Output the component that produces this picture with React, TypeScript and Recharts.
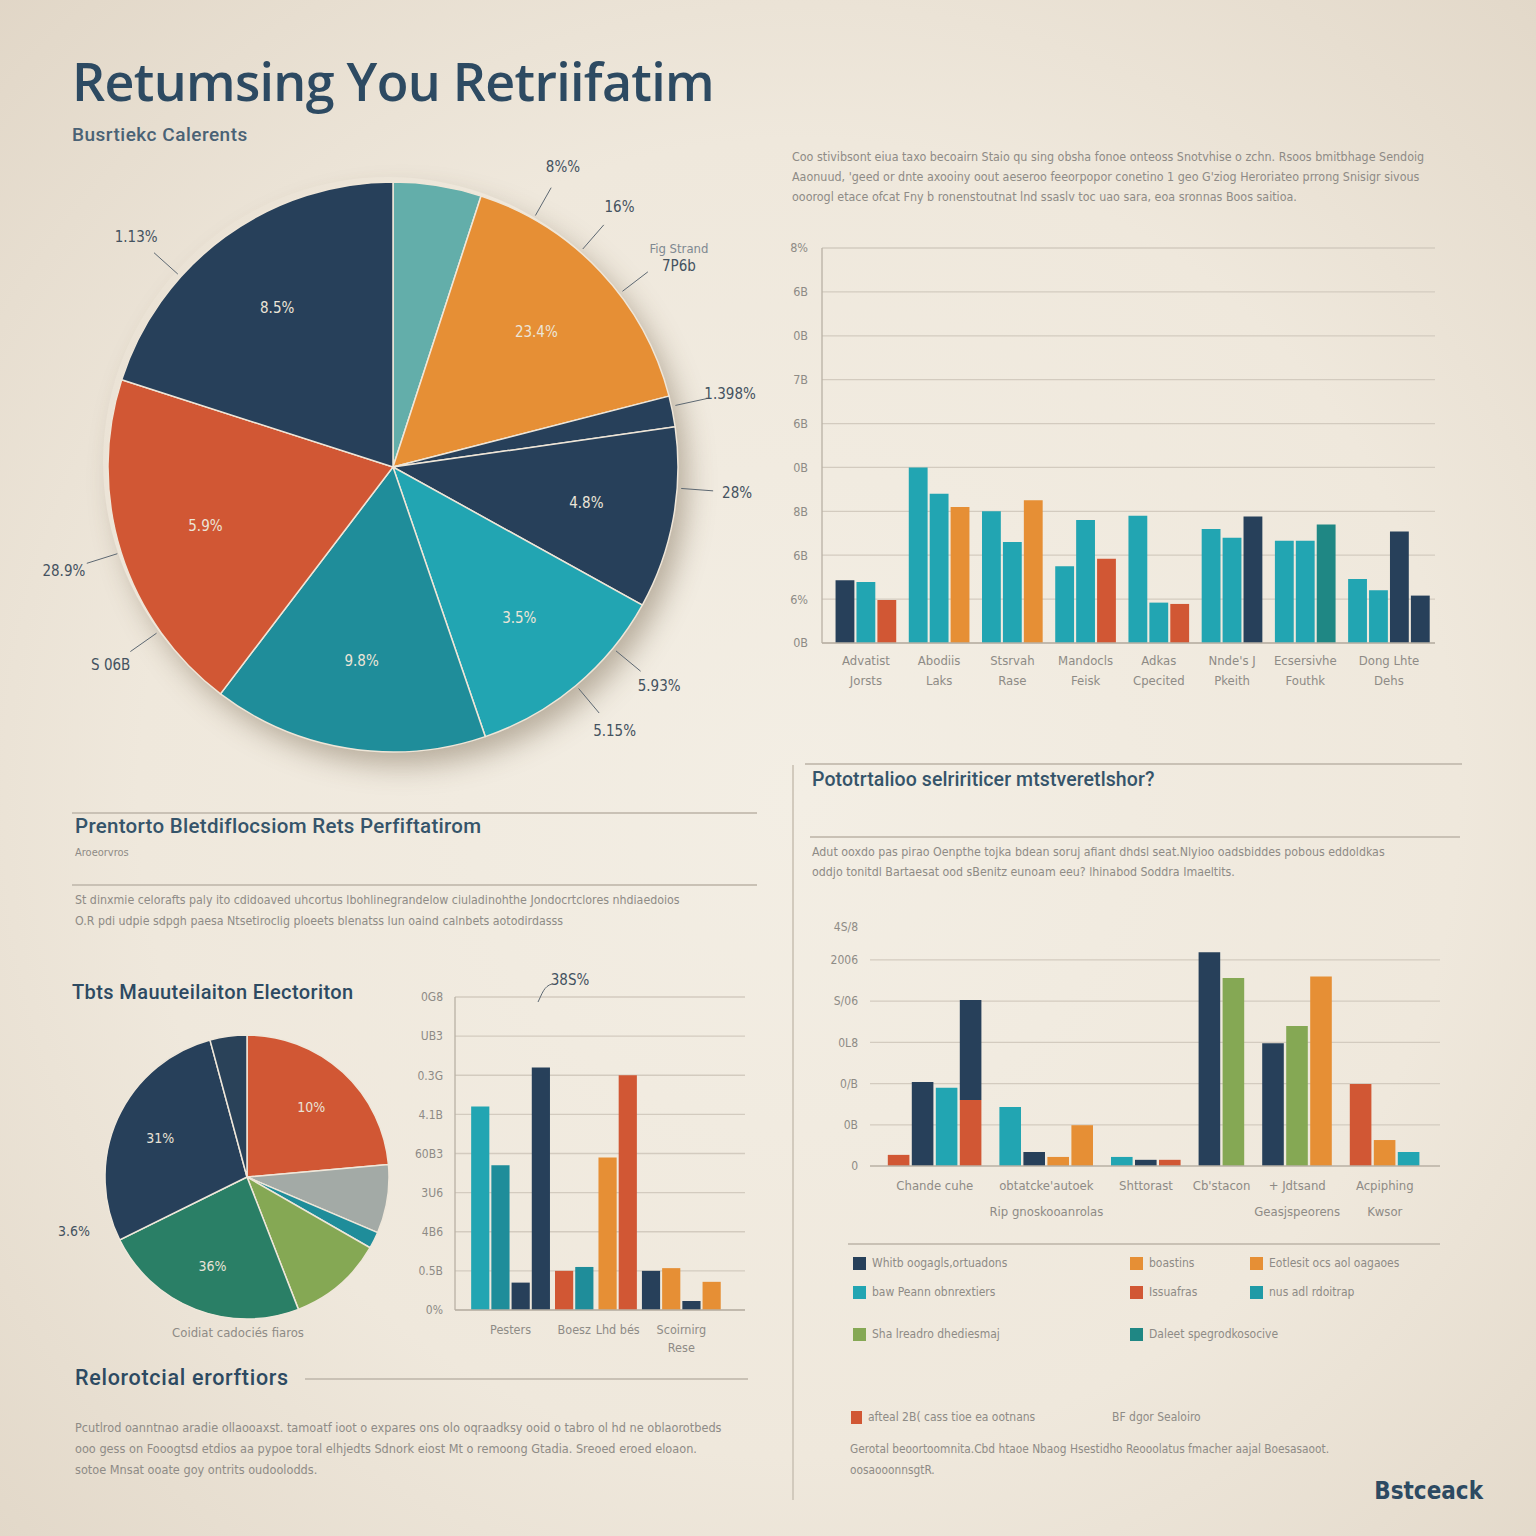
import React from "react";
import { BarChart, Bar, Cell, XAxis, YAxis, CartesianGrid, PieChart, Pie } from "recharts";

const NAVY = "#27405a";
const TEAL = "#22a5b2";
const TEAL_MID = "#1f8d9a";
const TEAL_LIGHT = "#63aeaa";
const TEAL_DARK = "#1f8784";
const ORANGE = "#e68f35";
const RED = "#d15734";
const GREEN = "#2a7f66";
const LIME = "#85a854";
const GREY = "#a3aaa6";

const INK = "#2d4a62";
const HEAD = "#35546a";
const MUTED = "#8e8b86";
const GRID = "#d3cbbf";
const AXIS = "#b8b1a5";

const NARROW = "'Liberation Sans Narrow', 'DejaVu Sans Condensed', Roboto, sans-serif";
const SANS = "'Open Sans', 'Noto Sans', sans-serif";
const HEADING = "Roboto, 'Noto Sans', sans-serif";

// ---------------- main pie ----------------
const mainShares = [5.0, 16.0, 1.75, 10.3, 11.7, 15.6, 19.6, 20.05];
const mainColors = [TEAL_LIGHT, ORANGE, NAVY, NAVY, TEAL, TEAL_MID, RED, NAVY];
const mainInner = ["", "23.4%", "", "4.8%", "3.5%", "9.8%", "5.9%", "8.5%"];
const mainOuter = [[], ["8%%", "16%", "Fig Strand|7P6b"], ["1.398%"], ["28%"], ["5.93%", "5.15%"], [], ["S 06B", "28.9%"], ["1.13%"]];

// ---------------- small pie ----------------
const smallShares = [23.6, 7.8, 1.9, 10.8, 23.6, 28.1, 4.2];
const smallColors = [RED, GREY, TEAL_MID, LIME, GREEN, NAVY, "#2a4259"];
const smallInner = ["10%", "", "", "", "36%", "31%", ""];

// ---------------- top right bars ----------------
const trCategories = [
  ["Advatist", "Jorsts"],
  ["Abodiis", "Laks"],
  ["Stsrvah", "Rase"],
  ["Mandocls", "Feisk"],
  ["Adkas", "Cpecited"],
  ["Nnde's J", "Pkeith"],
  ["Ecsersivhe", "Fouthk"],
  ["Dong Lhte", "Dehs"],
];
const trValues = [
  [1.43, 1.39, 0.98],
  [4.0, 3.4, 3.1],
  [3.0, 2.3, 3.25],
  [1.75, 2.8, 1.92],
  [2.9, 0.92, 0.89],
  [2.6, 2.4, 2.88],
  [2.33, 2.33, 2.7],
  [1.46, 1.2, 2.54, 1.08],
];
const trColors = [
  [NAVY, TEAL, RED],
  [TEAL, TEAL, ORANGE],
  [TEAL, TEAL, ORANGE],
  [TEAL, TEAL, RED],
  [TEAL, TEAL, RED],
  [TEAL, TEAL, NAVY],
  [TEAL, TEAL, TEAL_DARK],
  [TEAL, TEAL, NAVY, NAVY],
];
const trTicks = ["0B", "6%", "6B", "8B", "0B", "6B", "7B", "0B", "6B", "8%"];

// ---------------- bottom left bars ----------------
const blCategories = [["Pesters"], ["Boesz"], ["Lhd bés"], ["Scoirnirg", "Rese"]];
const blValues = [
  [5.2, 3.7, 0.7, 6.2],
  [1.0, 1.1],
  [3.9, 6.0],
  [1.0, 1.07, 0.23, 0.72],
];
const blColors = [
  [TEAL, TEAL_MID, NAVY, NAVY],
  [RED, TEAL_MID],
  [ORANGE, RED],
  [NAVY, ORANGE, NAVY, ORANGE],
];
const blTicks = ["0%", "0.5B", "4B6", "3U6", "60B3", "4.1B", "0.3G", "UB3", "0G8"];

// ---------------- bottom right bars ----------------
const brCategories = [
  ["Chande cuhe"],
  ["obtatcke'autoek", "Rip gnoskooanrolas"],
  ["Shttorast"],
  ["Cb'stacon"],
  ["+ Jdtsand", "Geasjspeorens"],
  ["Acpiphing", "Kwsor"],
];
const brValues = [
  [0.27, 2.04, 1.9, 1.6],
  [1.43, 0.34, 0.22, 0.99],
  [0.22, 0.15, 0.15],
  [5.19, 4.56],
  [2.98, 3.4, 4.6],
  [1.99, 0.63, 0.34],
];
const brColors = [
  [RED, NAVY, TEAL, RED],
  [TEAL, NAVY, ORANGE, ORANGE],
  [TEAL, NAVY, RED],
  [NAVY, LIME],
  [NAVY, LIME, ORANGE],
  [RED, ORANGE, TEAL],
];
const brStacked = { group: 0, bar: 3, value: 2.43, color: NAVY };
const brTickValues = [0, 1, 2, 3, 4, 5, 5.8];
const brTicks = ["0", "0B", "0/B", "0L8", "S/06", "2006", "4S/8"];

const legendLabels = [
  "Whitb oogagls,ortuadons", "boastins", "Eotlesit ocs aol oagaoes",
  "baw Peann obnrextiers", "Issuafras", "nus adl rdoitrap",
  "Sha lreadro dhediesmaj", "Daleet spegrodkosocive",
];
const legendColors = [NAVY, ORANGE, ORANGE, TEAL, RED, "#1f9aa6", LIME, TEAL_DARK];

// ---------------- helpers ----------------
const RAD = Math.PI / 180;
const polar = (cx: number, cy: number, r: number, a: number) => ({
  x: cx + r * Math.cos(-a * RAD),
  y: cy + r * Math.sin(-a * RAD),
});

type Row = { x: number; v: number; v2?: number; color: string };

function buildSlots(values: number[][], colors: string[][], lead: number, gap: number, tail: number) {
  const rows: Row[] = [];
  const centers: number[] = [];
  let x = lead;
  values.forEach((g, gi) => {
    const start = x;
    g.forEach((v, bi) => {
      rows.push({ x: x + 0.5, v, color: colors[gi][bi] });
      x += 1;
    });
    centers.push((start + x) / 2);
    if (gi < values.length - 1) x += gap;
  });
  return { rows, centers, total: x + tail };
}

function makeXTick(centers: number[], labels: string[][], first: number, step: number, size = 13) {
  return (props: any) => {
    const { x, y, payload } = props;
    const i = centers.findIndex((c) => Math.abs(c - payload.value) < 1e-6);
    const lines = labels[i] ?? [];
    return (
      <text x={x} y={y} textAnchor="middle" fill={MUTED} fontSize={size} fontFamily={NARROW}>
        {lines.map((l, k) => (
          <tspan key={k} x={x} dy={k === 0 ? first : step}>
            {l}
          </tspan>
        ))}
      </text>
    );
  };
}

function renderMainLabel(p: any) {
  const { cx, cy, midAngle, outerRadius, percent, index } = p;
  const sweep = percent * 360;
  const start = midAngle + sweep / 2;
  const parts: React.ReactNode[] = [];
  const inner = mainInner[index];
  if (inner) {
    const pt = polar(cx, cy, outerRadius * 0.69, midAngle);
    parts.push(
      <text key="in" x={pt.x} y={pt.y} textAnchor="middle" dominantBaseline="central" fill="#ece5d8" fontSize={15} fontFamily={NARROW}>
        {inner}
      </text>,
    );
  }
  const outer = mainOuter[index];
  outer.forEach((t, k) => {
    // spread the callouts from the leading edge of the slice
    const a = start - (sweep * (k + 1)) / (outer.length + 2);
    const p1 = polar(cx, cy, outerRadius + 4, a);
    const p2 = polar(cx, cy, outerRadius + 36, a);
    const pt = polar(cx, cy, outerRadius + 60, a);
    const lines = t.split("|");
    parts.push(
      <g key={`o${k}`}>
        <line x1={p1.x} y1={p1.y} x2={p2.x} y2={p2.y} stroke="#5d6872" strokeWidth={1} />
        <text x={pt.x} y={pt.y} textAnchor="middle" dominantBaseline="central" fill="#44525f" fontSize={15} fontFamily={NARROW}>
          {lines.length === 1 ? (
            t
          ) : (
            <>
              <tspan x={pt.x + 12} dy={-9} fill="#7e8891" fontSize={13}>{lines[0]}</tspan>
              <tspan x={pt.x + 12} dy={18}>{lines[1]}</tspan>
            </>
          )}
        </text>
      </g>,
    );
  });
  return <g key={`lbl-${index}`}>{parts}</g>;
}

function renderSmallLabel(p: any) {
  const t = smallInner[p.index];
  if (!t) return null;
  const pt = polar(p.cx, p.cy, p.outerRadius * 0.67, p.midAngle);
  return (
    <text key={`s-${p.index}`} x={pt.x} y={pt.y} textAnchor="middle" dominantBaseline="central" fill="#e9e3d7" fontSize={14} fontFamily={NARROW}>
      {t}
    </text>
  );
}

function Txt(props: { x: number; y: number; size: number; color?: string; weight?: number; family?: string; children: React.ReactNode; align?: "left" | "center" | "right"; spacing?: number }) {
  const { x, y, size, color = MUTED, weight = 400, family = NARROW, align = "left", spacing = 0 } = props;
  const shift = align === "center" ? "translateX(-50%)" : align === "right" ? "translateX(-100%)" : "none";
  return (
    <div
      style={{
        position: "absolute",
        left: x,
        top: y - size * 0.62,
        fontSize: size,
        lineHeight: `${size * 1.2}px`,
        color,
        fontWeight: weight,
        fontFamily: family,
        whiteSpace: "nowrap",
        transform: shift,
        letterSpacing: spacing,
      }}
    >
      {props.children}
    </div>
  );
}

function HLine({ x1, x2, y, color = "#c9c1b5" }: { x1: number; x2: number; y: number; color?: string }) {
  return <div style={{ position: "absolute", left: x1, top: y, width: x2 - x1, height: 1.5, background: color }} />;
}

// ---------------- charts ----------------
function TopRightBars() {
  const { rows, centers, total } = buildSlots(trValues, trColors, 0.6, 0.5, 0.2);
  const plotW = 613;
  return (
    <div style={{ position: "absolute", left: 780, top: 230 }}>
      <BarChart width={670} height={480} data={rows} margin={{ top: 18, right: 15, left: 0, bottom: 0 }}>
        <CartesianGrid vertical={false} stroke={GRID} strokeWidth={1.3} />
        <XAxis
          type="number"
          dataKey="x"
          domain={[0, total]}
          ticks={centers}
          interval={0}
          height={67}
          axisLine={{ stroke: AXIS, strokeWidth: 1.5 }}
          tickLine={false}
          tick={makeXTick(centers, trCategories, 14, 20)}
        />
        <YAxis
          type="number"
          domain={[0, 9]}
          ticks={[0, 1, 2, 3, 4, 5, 6, 7, 8, 9]}
          width={42}
          axisLine={{ stroke: AXIS, strokeWidth: 1.3 }}
          tickLine={false}
          tickMargin={8}
          tick={{ fill: MUTED, fontSize: 12.5, fontFamily: NARROW }}
          tickFormatter={(v: number) => trTicks[v] ?? ""}
        />
        <Bar dataKey="v" barSize={plotW / total} isAnimationActive={false}>
          {rows.map((r, i) => (
            <Cell key={i} fill={r.color} />
          ))}
        </Bar>
      </BarChart>
    </div>
  );
}

function BottomLeftBars() {
  const { rows, centers, total } = buildSlots(blValues, blColors, 0.75, 0.15, 1.15);
  const plotW = 290;
  return (
    <div style={{ position: "absolute", left: 405, top: 985 }}>
      <BarChart width={350} height={375} data={rows} margin={{ top: 12, right: 10, left: 0, bottom: 0 }}>
        <CartesianGrid vertical={false} stroke={GRID} strokeWidth={1.3} />
        <XAxis
          type="number"
          dataKey="x"
          domain={[0, total]}
          ticks={centers}
          interval={0}
          height={50}
          axisLine={{ stroke: AXIS, strokeWidth: 1.5 }}
          tickLine={false}
          tick={makeXTick(centers, blCategories, 16, 18, 12.5)}
        />
        <YAxis
          type="number"
          domain={[0, 8]}
          ticks={[0, 1, 2, 3, 4, 5, 6, 7, 8]}
          width={50}
          axisLine={{ stroke: AXIS, strokeWidth: 1.3 }}
          tickLine={false}
          tickMargin={6}
          tick={{ fill: MUTED, fontSize: 12, fontFamily: NARROW }}
          tickFormatter={(v: number) => blTicks[v] ?? ""}
        />
        <Bar dataKey="v" barSize={plotW / total} isAnimationActive={false}>
          {rows.map((r, i) => (
            <Cell key={i} fill={r.color} />
          ))}
        </Bar>
      </BarChart>
    </div>
  );
}

function BottomRightBars() {
  const { rows, centers, total } = buildSlots(brValues, brColors, 0.7, 0.65, 0.8);
  let idx = 0;
  brValues.forEach((g, gi) =>
    g.forEach((_, bi) => {
      if (gi === brStacked.group && bi === brStacked.bar) rows[idx].v2 = brStacked.value;
      idx += 1;
    }),
  );
  const plotW = 570;
  return (
    <div style={{ position: "absolute", left: 820, top: 915 }}>
      <BarChart width={630} height={320} data={rows} margin={{ top: 12, right: 10, left: 0, bottom: 0 }}>
        <CartesianGrid vertical={false} stroke={GRID} strokeWidth={1.3} horizontalValues={[1, 2, 3, 4, 5]} />
        <XAxis
          type="number"
          dataKey="x"
          domain={[0, total]}
          ticks={centers}
          interval={0}
          height={69}
          axisLine={{ stroke: AXIS, strokeWidth: 1.5 }}
          tickLine={false}
          tick={makeXTick(centers, brCategories, 16, 26)}
        />
        <YAxis
          type="number"
          domain={[0, 5.8]}
          ticks={brTickValues}
          width={50}
          axisLine={false}
          tickLine={false}
          tickMargin={6}
          tick={{ fill: MUTED, fontSize: 12, fontFamily: NARROW }}
          tickFormatter={(v: number) => brTicks[brTickValues.indexOf(v)] ?? ""}
        />
        <Bar dataKey="v" stackId="s" barSize={plotW / total} isAnimationActive={false}>
          {rows.map((r, i) => (
            <Cell key={i} fill={r.color} />
          ))}
        </Bar>
        <Bar dataKey="v2" stackId="s" barSize={plotW / total} fill={brStacked.color} isAnimationActive={false} />
      </BarChart>
    </div>
  );
}

function MainPie() {
  const data = mainShares.map((value, i) => ({ name: `s${i}`, value }));
  return (
    <>
      <div
        style={{
          position: "absolute",
          left: 388 - 285,
          top: 462 - 285,
          width: 570,
          height: 570,
          borderRadius: "50%",
          boxShadow: "14px 18px 28px rgba(90,70,45,0.38)",
        }}
      />
      <div style={{ position: "absolute", left: 0, top: 82 }}>
        <PieChart width={776} height={760}>
          <Pie
            data={data}
            dataKey="value"
            cx={388}
            cy={380}
            outerRadius={285}
            startAngle={90}
            endAngle={-270}
            stroke="#efe6d8"
            strokeWidth={1.5}
            label={renderMainLabel}
            labelLine={false}
            isAnimationActive={false}
          >
            {data.map((d, i) => (
              <Cell key={d.name} fill={mainColors[i]} />
            ))}
          </Pie>
        </PieChart>
      </div>
    </>
  );
}

function SmallPie() {
  const data = smallShares.map((value, i) => ({ name: `p${i}`, value }));
  return (
    <div style={{ position: "absolute", left: 92, top: 1022 }}>
      <PieChart width={300} height={300}>
        <Pie
          data={data}
          dataKey="value"
          cx={150}
          cy={150}
          outerRadius={142}
          startAngle={90}
          endAngle={-270}
          stroke="#efe7da"
          strokeWidth={1.5}
          label={renderSmallLabel}
          labelLine={false}
          isAnimationActive={false}
        >
          {data.map((d, i) => (
            <Cell key={d.name} fill={smallColors[i]} />
          ))}
        </Pie>
      </PieChart>
    </div>
  );
}

export default function App() {
  return (
    <div
      style={{
        position: "absolute",
        left: 0,
        top: 0,
        width: 1536,
        height: 1536,
        overflow: "hidden",
        background: "radial-gradient(ellipse 78% 78% at 52% 52%, #f3eee4 0%, #efe8dc 55%, #dfd4c4 100%)",
      }}
    >
      {/* header */}
      <Txt x={72} y={82} size={52} color={INK} weight={600} family={SANS} spacing={-0.7}>
        Retumsing You Retriifatim
      </Txt>
      <Txt x={72} y={136} size={19} color="#4a6275" weight={500} family={HEADING} spacing={0.5}>
        Busrtiekc Calerents
      </Txt>

      <MainPie />

      {/* top right text */}
      <Txt x={792} y={158} size={12.4}>
        Coo stivibsont eiua taxo becoairn Staio qu sing obsha fonoe onteoss Snotvhise o zchn. Rsoos bmitbhage Sendoig
      </Txt>
      <Txt x={792} y={178} size={12.4}>
        Aaonuud, 'geed or dnte axooiny oout aeseroo feeorpopor conetino 1 geo G'ziog Heroriateo prrong Snisigr sivous
      </Txt>
      <Txt x={792} y={198} size={12.4}>
        ooorogl etace ofcat Fny b ronenstoutnat lnd ssaslv toc uao sara, eoa sronnas Boos saitioa.
      </Txt>
      <TopRightBars />

      {/* left middle section */}
      <HLine x1={72} x2={757} y={812} />
      <Txt x={75} y={827} size={20.5} color={HEAD} weight={500} family={HEADING} spacing={0.3}>
        Prentorto Bletdiflocsiom Rets Perfiftatirom
      </Txt>
      <Txt x={75} y={853} size={11}>
        Aroeorvros
      </Txt>
      <HLine x1={72} x2={757} y={884} />
      <Txt x={75} y={901} size={12.3}>
        St dinxmie celorafts paly ito cdidoaved uhcortus lbohlinegrandelow ciuladinohthe Jondocrtclores nhdiaedoios
      </Txt>
      <Txt x={75} y={922} size={12.3}>
        O.R pdi udpie sdpgh paesa Ntsetiroclig ploeets blenatss lun oaind calnbets aotodirdasss
      </Txt>

      <Txt x={72} y={992} size={20} color={INK} weight={500} family={HEADING} spacing={0.4}>
        Tbts Mauuteilaiton Electoriton
      </Txt>
      <SmallPie />
      <Txt x={58} y={1232} size={14} color="#44525f">
        3.6%
      </Txt>
      <Txt x={238} y={1333} size={13} align="center">
        Coidiat cadociés fiaros
      </Txt>

      <BottomLeftBars />
      <Txt x={570} y={980} size={15} color="#44525f" align="center">
        38S%
      </Txt>
      <svg style={{ position: "absolute", left: 530, top: 982 }} width={30} height={22}>
        <path d="M22 2 C 14 4, 12 12, 8 20" stroke="#5d6872" strokeWidth={1} fill="none" />
      </svg>

      <Txt x={75} y={1378} size={21.5} color={INK} weight={500} family={HEADING} spacing={0.7}>
        Relorotcial erorftiors
      </Txt>
      <HLine x1={305} x2={748} y={1378} />
      <Txt x={75} y={1428} size={12.6}>
        Pcutlrod oanntnao aradie ollaooaxst. tamoatf ioot o expares ons olo oqraadksy ooid o tabro ol hd ne oblaorotbeds
      </Txt>
      <Txt x={75} y={1449} size={12.6}>
        ooo gess on Fooogtsd etdios aa pypoe toral elhjedts Sdnork eiost Mt o remoong Gtadia. Sreoed eroed eloaon.
      </Txt>
      <Txt x={75} y={1470} size={12.6}>
        sotoe Mnsat ooate goy ontrits oudoolodds.
      </Txt>

      {/* right lower section */}
      <div style={{ position: "absolute", left: 792, top: 765, width: 1.5, height: 735, background: "#d2cabd" }} />
      <HLine x1={805} x2={1462} y={763} />
      <Txt x={812} y={780} size={19.5} color={HEAD} weight={500} family={HEADING} spacing={0.1}>
        Pototrtalioo selririticer mtstveretlshor?
      </Txt>
      <HLine x1={810} x2={1460} y={836} />
      <Txt x={812} y={853} size={12.3}>
        Adut ooxdo pas pirao Oenpthe tojka bdean soruj afiant dhdsl seat.Nlyioo oadsbiddes pobous eddoldkas
      </Txt>
      <Txt x={812} y={873} size={12.3}>
        oddjo tonitdl Bartaesat ood sBenitz eunoam eeu? lhinabod Soddra Imaeltits.
      </Txt>

      <BottomRightBars />

      <HLine x1={848} x2={1440} y={1243} />
      {legendLabels.map((l, i) => {
        const col = i < 6 ? i % 3 : i - 6;
        const row = i < 6 ? Math.floor(i / 3) : 2;
        const lx = [853, 1130, 1250][col];
        const ly = [1263, 1292, 1334][row];
        return (
          <React.Fragment key={l}>
            <div style={{ position: "absolute", left: lx, top: ly - 6, width: 13, height: 13, background: legendColors[i] }} />
            <Txt x={lx + 19} y={ly} size={12}>
              {l}
            </Txt>
          </React.Fragment>
        );
      })}

      <div style={{ position: "absolute", left: 851, top: 1411, width: 11, height: 13, background: RED }} />
      <Txt x={868} y={1417} size={12}>
        afteal 2B( cass tioe ea ootnans
      </Txt>
      <Txt x={1112} y={1417} size={12}>
        BF dgor Sealoiro
      </Txt>
      <Txt x={850} y={1449} size={11.8}>
        Gerotal beoortoomnita.Cbd htaoe Nbaog Hsestidho Reooolatus fmacher aajal Boesasaoot.
      </Txt>
      <Txt x={850} y={1470} size={11.8}>
        oosaooonnsgtR.
      </Txt>
      <Txt x={1483} y={1492} size={24} color={INK} weight={700} align="right">
        Bstceack
      </Txt>
    </div>
  );
}
